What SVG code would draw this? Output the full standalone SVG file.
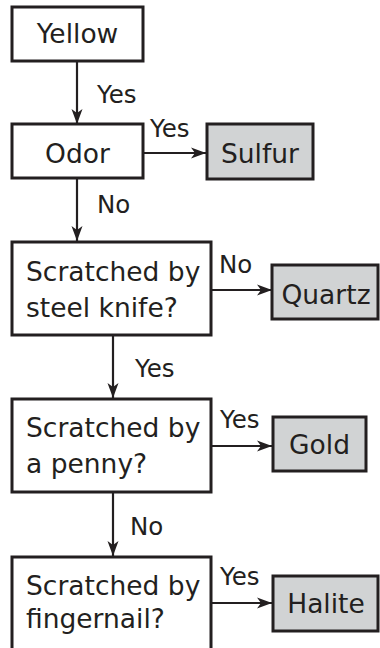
<svg xmlns="http://www.w3.org/2000/svg" width="380" height="648" viewBox="0 0 380 648">
<defs>
<style>
.box{fill:#ffffff;stroke:#231f20;stroke-width:3}
.res{fill:#d1d3d4;stroke:#231f20;stroke-width:3}
.t{font-family:"DejaVu Sans",sans-serif;font-size:26.5px;fill:#231f20}
.l{font-family:"DejaVu Sans",sans-serif;font-size:24.5px;fill:#231f20}
.c{text-anchor:middle}
.ln{stroke:#231f20;stroke-width:2.2;fill:none;marker-end:url(#ah)}
</style>
<marker id="ah" markerWidth="16" markerHeight="12" refX="15" refY="6" orient="auto" markerUnits="userSpaceOnUse">
<path d="M0,0.5 L15,6 L0,11.5 L4,6 Z" fill="#231f20"/>
</marker>
</defs>
<g id="connectors">
<line class="ln" x1="77" y1="61" x2="77" y2="124"/>
<line class="ln" x1="143" y1="153" x2="206" y2="153"/>
<line class="ln" x1="77" y1="178" x2="77" y2="241"/>
<line class="ln" x1="211" y1="290" x2="272" y2="290"/>
<line class="ln" x1="113" y1="335" x2="113" y2="398"/>
<line class="ln" x1="211" y1="446" x2="272" y2="446"/>
<line class="ln" x1="113" y1="492" x2="113" y2="556"/>
<line class="ln" x1="211" y1="603" x2="272" y2="603"/>
<text class="l" x="97" y="103">Yes</text>
<text class="l" x="150" y="137">Yes</text>
<text class="l" x="97" y="213">No</text>
<text class="l" x="219" y="273">No</text>
<text class="l" x="135" y="377">Yes</text>
<text class="l" x="220" y="428">Yes</text>
<text class="l" x="130" y="535">No</text>
<text class="l" x="220" y="585">Yes</text>
</g>
<g id="yellow"><rect class="box" x="12" y="7" width="131" height="54"/><text class="t c" x="77.5" y="43">Yellow</text></g>
<g id="odor"><rect class="box" x="12" y="124" width="131" height="54"/><text class="t c" x="77.5" y="163">Odor</text></g>
<g id="sulfur"><rect class="res" x="207" y="124" width="106" height="55"/><text class="t c" x="260" y="163">Sulfur</text></g>
<g id="knife"><rect class="box" x="12" y="242" width="199" height="93"/><text class="t" x="26" y="281">Scratched by</text><text class="t" x="26" y="317">steel knife?</text></g>
<g id="quartz"><rect class="res" x="272" y="265" width="106" height="54"/><text class="t c" x="326" y="304">Quartz</text></g>
<g id="penny"><rect class="box" x="12" y="399" width="199" height="93"/><text class="t" x="26" y="437">Scratched by</text><text class="t" x="26" y="473">a penny?</text></g>
<g id="gold"><rect class="res" x="273" y="417" width="93" height="54"/><text class="t c" x="319.5" y="454">Gold</text></g>
<g id="fingernail"><rect class="box" x="12" y="557" width="199" height="100"/><text class="t" x="26" y="595">Scratched by</text><text class="t" x="26" y="628">fingernail?</text></g>
<g id="halite"><rect class="res" x="273" y="576" width="105" height="55"/><text class="t c" x="326" y="613">Halite</text></g>
</svg>
